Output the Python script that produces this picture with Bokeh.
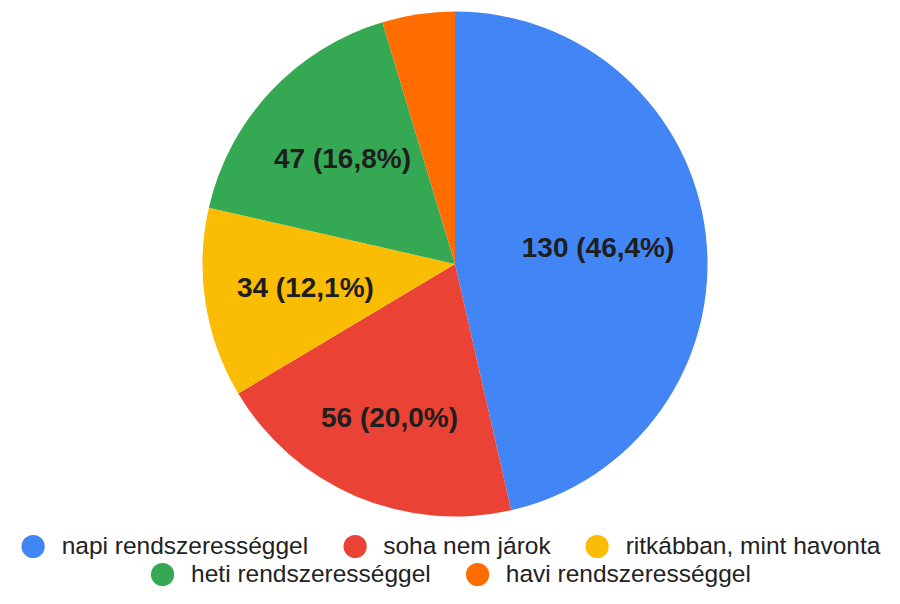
import math
from bokeh.plotting import figure
from bokeh.models import ColumnDataSource, Range1d, Legend, LegendItem
from bokeh.core.properties import value
from bokeh.embed import file_html
from bokeh.resources import INLINE

# ---- data ----
categories = ["napi rendszerességgel", "soha nem járok", "ritkábban, mint havonta",
              "heti rendszerességgel", "havi rendszerességgel"]
counts = [130, 56, 34, 47, 13]
colors = ["#4285F4", "#EA4335", "#FBBC04", "#34A853", "#FF6D01"]
legend_rows = [[0, 1, 2], [3, 4]]

# ---- layout ----
W, H = 884, 588
CX, CY, R = 454.5, 324.5, 252.5
label_r = [0.57, 0.66, 0.60, 0.61, 0.60]

total = sum(counts)
starts, ends, lx, ly, ltxt = [], [], [], [], []
cum = 0.0
for i, c in enumerate(counts):
    f0 = cum / total
    cum += c
    f1 = cum / total
    starts.append(math.pi / 2 - 2 * math.pi * f1)
    ends.append(math.pi / 2 - 2 * math.pi * f0)
    pct = 100.0 * c / total
    if pct >= 5:
        mid = math.pi / 2 - 2 * math.pi * (f0 + f1) / 2
        lx.append(CX + label_r[i] * R * math.cos(mid))
        ly.append(CY + label_r[i] * R * math.sin(mid))
        ltxt.append(f"{c} ({pct:.1f}%)".replace(".", ","))

src = ColumnDataSource(dict(start=starts, end=ends, color=colors, cat=categories))

p = figure(width=W, height=H, x_range=Range1d(0, W), y_range=Range1d(0, H),
           output_backend="svg", toolbar_location=None, min_border=0)
p.axis.visible = False
p.grid.visible = False
p.outline_line_color = None
p.background_fill_color = "white"
p.border_fill_color = "white"

p.wedge(x=CX, y=CY, radius=R, start_angle="start", end_angle="end",
        fill_color="color", line_color=None, source=src)

p.text(x=lx, y=ly, text=ltxt, text_align="center", text_baseline="middle",
       text_font=value("Liberation Sans"), text_font_style="bold",
       text_font_size="28px", text_color="#1e1e1e")

rends = []
for i, cat in enumerate(categories):
    r = p.scatter(x=[float("nan")], y=[float("nan")], marker="circle", size=23,
                  fill_color=colors[i], line_color=None)
    rends.append(r)

margins = [13, -15]
for row, m in zip(legend_rows, margins):
    leg = Legend(items=[LegendItem(label=categories[i], renderers=[rends[i]]) for i in row],
                 location="bottom_center", orientation="horizontal",
                 glyph_width=58, glyph_height=58, label_standoff=0, spacing=17,
                 padding=0, margin=m, border_line_color=None,
                 background_fill_alpha=0,
                 label_text_font="Liberation Sans", label_text_font_size="24.5px",
                 label_text_color="#222222", label_text_baseline="middle")
    p.add_layout(leg)

open("out.html", "w").write(file_html(p, INLINE))
